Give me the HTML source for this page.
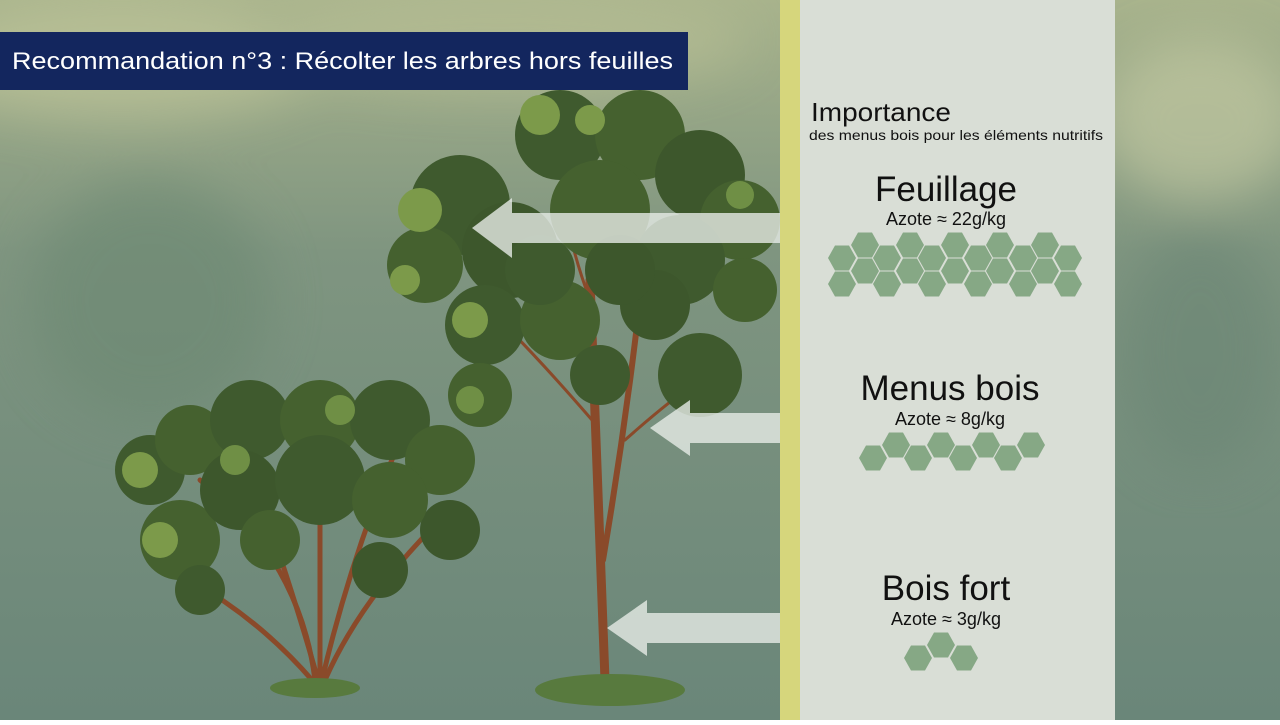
<!DOCTYPE html>
<html><head><meta charset="utf-8"><style>
body{margin:0;width:1280px;height:720px;overflow:hidden;font-family:"Liberation Sans",sans-serif}
</style></head><body>
<svg width="1280" height="720" viewBox="0 0 1280 720" xmlns="http://www.w3.org/2000/svg">
<defs>
<linearGradient id="bg" x1="0" y1="0" x2="0" y2="1">
<stop offset="0" stop-color="#a8b38c"/><stop offset="0.35" stop-color="#7f9580"/><stop offset="1" stop-color="#6a8679"/></linearGradient>
<filter id="bl"><feGaussianBlur stdDeviation="25"/></filter>
<polygon id="hx" points="-14,0 -7,-12.5 7,-12.5 14,0 7,12.5 -7,12.5" fill="#86a885"/>
</defs>
<rect width="1280" height="720" fill="url(#bg)"/>
<g filter="url(#bl)" opacity="0.6">
<ellipse cx="120" cy="60" rx="200" ry="60" fill="#c4c99c"/>
<ellipse cx="500" cy="40" rx="250" ry="50" fill="#b9c095"/>
<ellipse cx="150" cy="300" rx="120" ry="120" fill="#6c8872"/>
<ellipse cx="1200" cy="120" rx="100" ry="80" fill="#c7cca4"/>
<ellipse cx="1200" cy="350" rx="80" ry="120" fill="#6a8574"/>
</g>
<rect x="780" y="0" width="20" height="720" fill="#d6d67c"/>
<rect x="800" y="0" width="315" height="720" fill="#d9ded6"/>
<g stroke="#8a4a2a" stroke-width="5" fill="none" stroke-linecap="round">
<path d="M315 680 Q300 560 200 480"/><path d="M318 680 Q290 580 240 440"/><path d="M320 680 Q320 560 320 430"/>
<path d="M322 680 Q350 560 400 440"/><path d="M325 680 Q360 600 440 520"/><path d="M312 680 Q260 620 190 580"/>
</g>
<ellipse cx="315" cy="688" rx="45" ry="10" fill="#587a3e"/>
<g>
<circle cx="150" cy="470" r="35" fill="#3f5a2e"/><circle cx="190" cy="440" r="35" fill="#45612f"/><circle cx="250" cy="420" r="40" fill="#3f5a2e"/>
<circle cx="320" cy="420" r="40" fill="#45612f"/><circle cx="390" cy="420" r="40" fill="#3f5a2e"/><circle cx="440" cy="460" r="35" fill="#45612f"/>
<circle cx="450" cy="530" r="30" fill="#3d572c"/><circle cx="180" cy="540" r="40" fill="#45612f"/><circle cx="240" cy="490" r="40" fill="#3d572c"/>
<circle cx="320" cy="480" r="45" fill="#3f5a2e"/><circle cx="390" cy="500" r="38" fill="#45612f"/><circle cx="380" cy="570" r="28" fill="#3d572c"/>
<circle cx="200" cy="590" r="25" fill="#3f5a2e"/><circle cx="270" cy="540" r="30" fill="#45612f"/>
<circle cx="140" cy="470" r="18" fill="#7c9a4a"/><circle cx="160" cy="540" r="18" fill="#7c9a4a"/><circle cx="235" cy="460" r="15" fill="#6f8f45"/><circle cx="340" cy="410" r="15" fill="#6f8f45"/>
</g>
<g stroke="#8a4a2a" fill="none" stroke-linecap="round">
<path d="M605 680 Q598 480 590 280" stroke-width="9"/>
<path d="M603 560 Q625 430 640 300" stroke-width="6"/>
<path d="M592 420 Q540 360 500 320" stroke-width="3"/><path d="M625 440 Q670 400 700 380" stroke-width="3"/>
<path d="M590 300 Q560 220 560 150" stroke-width="3"/><path d="M640 320 Q690 260 720 240" stroke-width="3"/>
</g>
<ellipse cx="610" cy="690" rx="75" ry="16" fill="#587a3e"/>
<g>
<circle cx="560" cy="135" r="45" fill="#3f5a2e"/><circle cx="640" cy="135" r="45" fill="#45612f"/><circle cx="700" cy="175" r="45" fill="#3d572c"/>
<circle cx="740" cy="220" r="40" fill="#45612f"/><circle cx="460" cy="205" r="50" fill="#3f5a2e"/><circle cx="425" cy="265" r="38" fill="#45612f"/>
<circle cx="510" cy="250" r="48" fill="#3d572c"/><circle cx="600" cy="210" r="50" fill="#45612f"/><circle cx="680" cy="260" r="45" fill="#3f5a2e"/>
<circle cx="745" cy="290" r="32" fill="#45612f"/><circle cx="485" cy="325" r="40" fill="#3f5a2e"/><circle cx="560" cy="320" r="40" fill="#45612f"/>
<circle cx="655" cy="305" r="35" fill="#3d572c"/><circle cx="700" cy="375" r="42" fill="#3f5a2e"/><circle cx="480" cy="395" r="32" fill="#45612f"/>
<circle cx="600" cy="375" r="30" fill="#3f5a2e"/><circle cx="540" cy="270" r="35" fill="#3f5a2e"/><circle cx="620" cy="270" r="35" fill="#3d572c"/>
<circle cx="540" cy="115" r="20" fill="#7c9a4a"/><circle cx="590" cy="120" r="15" fill="#7c9a4a"/><circle cx="420" cy="210" r="22" fill="#7c9a4a"/>
<circle cx="405" cy="280" r="15" fill="#7c9a4a"/><circle cx="470" cy="320" r="18" fill="#7c9a4a"/><circle cx="470" cy="400" r="14" fill="#6f8f45"/><circle cx="740" cy="195" r="14" fill="#6f8f45"/>
</g>
<g fill="#e6ebe6" opacity="0.8">
<polygon points="472,228 512,198 512,213 780,213 780,243 512,243 512,258"/>
<polygon points="650,428 690,400 690,413 780,413 780,443 690,443 690,456"/>
<polygon points="607,628 647,600 647,613 780,613 780,643 647,643 647,656"/>
</g>
<rect x="0" y="32" width="688" height="58" fill="#13265e"/>
<text x="12" y="69" fill="#fff" font-size="24" textLength="661" lengthAdjust="spacingAndGlyphs">Recommandation n°3 : Récolter les arbres hors feuilles</text>
<g fill="#111">
<text x="811" y="121" font-size="26" textLength="140" lengthAdjust="spacingAndGlyphs">Importance</text>
<text x="809" y="140" font-size="14" textLength="294" lengthAdjust="spacingAndGlyphs">des menus bois pour les éléments nutritifs</text>
<text x="946" y="201" font-size="35" text-anchor="middle">Feuillage</text>
<text x="946" y="225" font-size="18" text-anchor="middle">Azote ≈ 22g/kg</text>
<text x="950" y="400" font-size="35" text-anchor="middle">Menus bois</text>
<text x="950" y="425" font-size="18" text-anchor="middle">Azote ≈ 8g/kg</text>
<text x="946" y="600" font-size="35" text-anchor="middle">Bois fort</text>
<text x="946" y="625" font-size="18" text-anchor="middle">Azote ≈ 3g/kg</text>
</g>
<g>
<use href="#hx" x="842" y="258"/><use href="#hx" x="842" y="284"/>
<use href="#hx" x="865" y="245"/><use href="#hx" x="865" y="271"/>
<use href="#hx" x="887" y="258"/><use href="#hx" x="887" y="284"/>
<use href="#hx" x="910" y="245"/><use href="#hx" x="910" y="271"/>
<use href="#hx" x="932" y="258"/><use href="#hx" x="932" y="284"/>
<use href="#hx" x="955" y="245"/><use href="#hx" x="955" y="271"/>
<use href="#hx" x="978" y="258"/><use href="#hx" x="978" y="284"/>
<use href="#hx" x="1000" y="245"/><use href="#hx" x="1000" y="271"/>
<use href="#hx" x="1023" y="258"/><use href="#hx" x="1023" y="284"/>
<use href="#hx" x="1045" y="245"/><use href="#hx" x="1045" y="271"/>
<use href="#hx" x="1068" y="258"/><use href="#hx" x="1068" y="284"/>
</g>
<g>
<use href="#hx" x="873" y="458"/><use href="#hx" x="896" y="445"/><use href="#hx" x="918" y="458"/>
<use href="#hx" x="941" y="445"/><use href="#hx" x="963" y="458"/><use href="#hx" x="986" y="445"/>
<use href="#hx" x="1008" y="458"/><use href="#hx" x="1031" y="445"/>
</g>
<g>
<use href="#hx" x="918" y="658"/><use href="#hx" x="941" y="645"/><use href="#hx" x="964" y="658"/>
</g>
</svg>
</body></html>
